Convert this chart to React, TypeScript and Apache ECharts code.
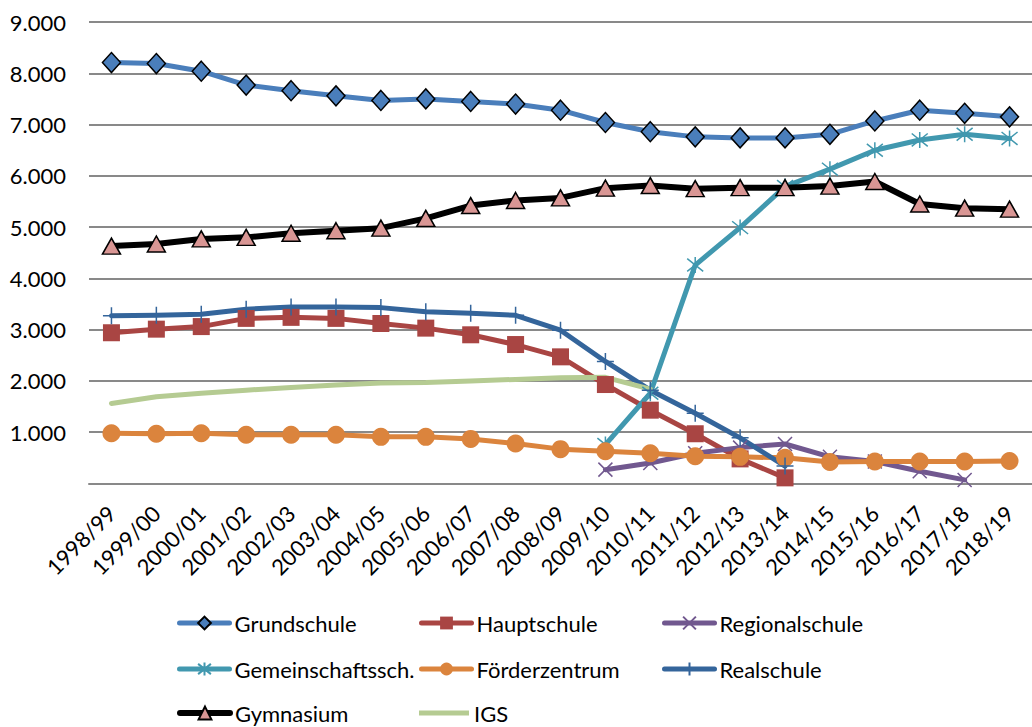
import React, { useEffect, useRef } from "react";
import * as echarts from "echarts";

const categories = [
  "1998/99", "1999/00", "2000/01", "2001/02", "2002/03", "2003/04", "2004/05",
  "2005/06", "2006/07", "2007/08", "2008/09", "2009/10", "2010/11", "2011/12",
  "2012/13", "2013/14", "2014/15", "2015/16", "2016/17", "2017/18", "2018/19",
];

const grundschule = [8210, 8190, 8040, 7770, 7660, 7560, 7470, 7500, 7450, 7400, 7280, 7040, 6860, 6760, 6740, 6740, 6810, 7070, 7280, 7220, 7150];
const hauptschule = [2940, 3010, 3060, 3220, 3240, 3220, 3120, 3030, 2900, 2710, 2470, 1930, 1430, 970, 480, 110, null, null, null, null, null];
const regionalschule = [null, null, null, null, null, null, null, null, null, null, null, 270, 400, 590, 700, 770, 520, 430, 240, 70, null];
const gemeinschaftssch = [null, null, null, null, null, null, null, null, null, null, null, 760, 1760, 4260, 4990, 5790, 6130, 6500, 6700, 6810, 6730];
const foerderzentrum = [980, 970, 980, 950, 950, 950, 910, 910, 870, 780, 670, 630, 590, 530, 520, 500, 420, 430, 430, 430, 440];
const realschule = [3270, 3280, 3300, 3400, 3440, 3440, 3430, 3350, 3320, 3280, 2990, 2380, 1820, 1370, 890, 340, null, null, null, null, null];
const gymnasium = [4630, 4670, 4770, 4800, 4880, 4930, 4980, 5170, 5420, 5520, 5570, 5760, 5810, 5750, 5770, 5770, 5800, 5890, 5450, 5370, 5350];
const igs = [1560, 1690, 1760, 1820, 1870, 1920, 1960, 1970, 2000, 2030, 2060, 2070, 1840, null, null, null, null, null, null, null, null];

const yTicks = [0, 1000, 2000, 3000, 4000, 5000, 6000, 7000, 8000, 9000];

const FONT = "Lato, 'Noto Sans', sans-serif";

const X_PATH = "path://M0,0 L10,10 M10,0 L0,10";
const STAR_PATH = "path://M1,1 L9,9 M9,1 L1,9 M5,0 L5,10";
const PLUS_PATH = "path://M5,0 L5,10 M0,5 L10,5";

type SeriesDef = {
  name: string;
  data: (number | null)[];
  color: string;
  lineColor: string;
  width: number;
  symbol: string;
  size: number | number[];
  fill: string;
  border: string;
  borderWidth: number;
};

const seriesDefs: SeriesDef[] = [
  { name: "Grundschule", data: grundschule, color: "#4A7EBB", lineColor: "#4A7EBB", width: 5, symbol: "diamond", size: [18, 20], fill: "#4A7EBB", border: "#000", borderWidth: 1.5 },
  { name: "Hauptschule", data: hauptschule, color: "#A94543", lineColor: "#A94543", width: 5, symbol: "rect", size: 17, fill: "#A94543", border: "#A94543", borderWidth: 0 },
  { name: "Regionalschule", data: regionalschule, color: "#71588F", lineColor: "#71588F", width: 5, symbol: X_PATH, size: 14, fill: "none", border: "#71588F", borderWidth: 1.5 },
  { name: "Gemeinschaftssch.", data: gemeinschaftssch, color: "#4198AF", lineColor: "#4198AF", width: 5, symbol: STAR_PATH, size: 16, fill: "none", border: "#4198AF", borderWidth: 1.5 },
  { name: "Förderzentrum", data: foerderzentrum, color: "#DB843D", lineColor: "#DB843D", width: 5, symbol: "circle", size: 18, fill: "#DB843D", border: "#DB843D", borderWidth: 0 },
  { name: "Realschule", data: realschule, color: "#34659B", lineColor: "#34659B", width: 5, symbol: PLUS_PATH, size: 17, fill: "none", border: "#34659B", borderWidth: 1.5 },
  { name: "Gymnasium", data: gymnasium, color: "#D99694", lineColor: "#000000", width: 6, symbol: "triangle", size: [18, 16], fill: "#D99694", border: "#000", borderWidth: 1.5 },
  { name: "IGS", data: igs, color: "#B5CB92", lineColor: "#B5CB92", width: 5, symbol: "none", size: 0, fill: "#B5CB92", border: "#B5CB92", borderWidth: 0 },
];

// legend layout: [name, left, top]
const legendLayout: [string, number, number][] = [
  ["Grundschule", 177, 611],
  ["Hauptschule", 419, 611],
  ["Regionalschule", 662, 611],
  ["Gemeinschaftssch.", 177, 657],
  ["Förderzentrum", 419, 657],
  ["Realschule", 662, 657],
  ["Gymnasium", 177, 701],
  ["IGS", 419, 701],
];

export default function App() {
  const ref = useRef<HTMLDivElement>(null);

  useEffect(() => {
    if (!ref.current) return;
    const chart = echarts.init(ref.current, undefined, { renderer: "svg" });
    const option: any = {
      animation: false,
      backgroundColor: "#ffffff",
      textStyle: { fontFamily: FONT },
      grid: { left: 89, right: -2, top: 22, bottom: 243.5, containLabel: false },
      xAxis: {
        type: "category",
        data: categories,
        boundaryGap: true,
        axisLine: { show: true, lineStyle: { color: "#898989", width: 2 } },
        axisTick: { show: false },
        axisLabel: {
          interval: 0,
          rotate: 45,
          margin: 26,
          fontSize: 22,
          fontFamily: FONT,
          color: "#000",
        },
        splitLine: { show: false },
      },
      yAxis: {
        type: "value",
        min: yTicks[0],
        max: yTicks[yTicks.length - 1],
        interval: 1000,
        axisLine: { show: false },
        axisTick: { show: false },
        axisLabel: {
          margin: 23,
          fontSize: 22,
          fontFamily: FONT,
          color: "#000",
          formatter: (v: number) => (v === 0 ? "" : (v / 1000).toFixed(3)),
        },
        splitLine: { show: true, lineStyle: { color: "#898989", width: 2 } },
      },
      legend: legendLayout.map(([name, left, top]) => {
        const def = seriesDefs.find((s) => s.name === name)!;
        const isLineOnly = def.symbol === "none";
        return {
          data: isLineOnly
            ? [{ name, icon: "path://M0,0 L50,0 L50,5 L0,5 Z" }]
            : [name],
          left,
          top,
          padding: 0,
          itemWidth: 50,
          itemHeight: isLineOnly ? 5 : 16,
          itemGap: 0,
          selectedMode: false,
          lineStyle: { width: def.width },
          textStyle: { fontSize: 22, fontFamily: FONT, color: "#000", lineHeight: 24 },
        };
      }),
      series: seriesDefs.map((s) => ({
        name: s.name,
        type: "line",
        data: s.data,
        connectNulls: false,
        symbol: s.symbol,
        symbolSize: s.size,
        showSymbol: s.symbol !== "none",
        lineStyle: { color: s.lineColor, width: s.width, cap: "round", join: "round" },
        itemStyle: { color: s.fill === "none" ? s.color : s.fill, borderColor: s.border, borderWidth: s.borderWidth },
        emphasis: { disabled: true },
      })),
    };
    chart.setOption(option);
    return () => chart.dispose();
  }, []);

  return (
    <div
      ref={ref}
      style={{ position: "fixed", left: 0, top: 0, width: 1032, height: 727, background: "#fff" }}
    />
  );
}
